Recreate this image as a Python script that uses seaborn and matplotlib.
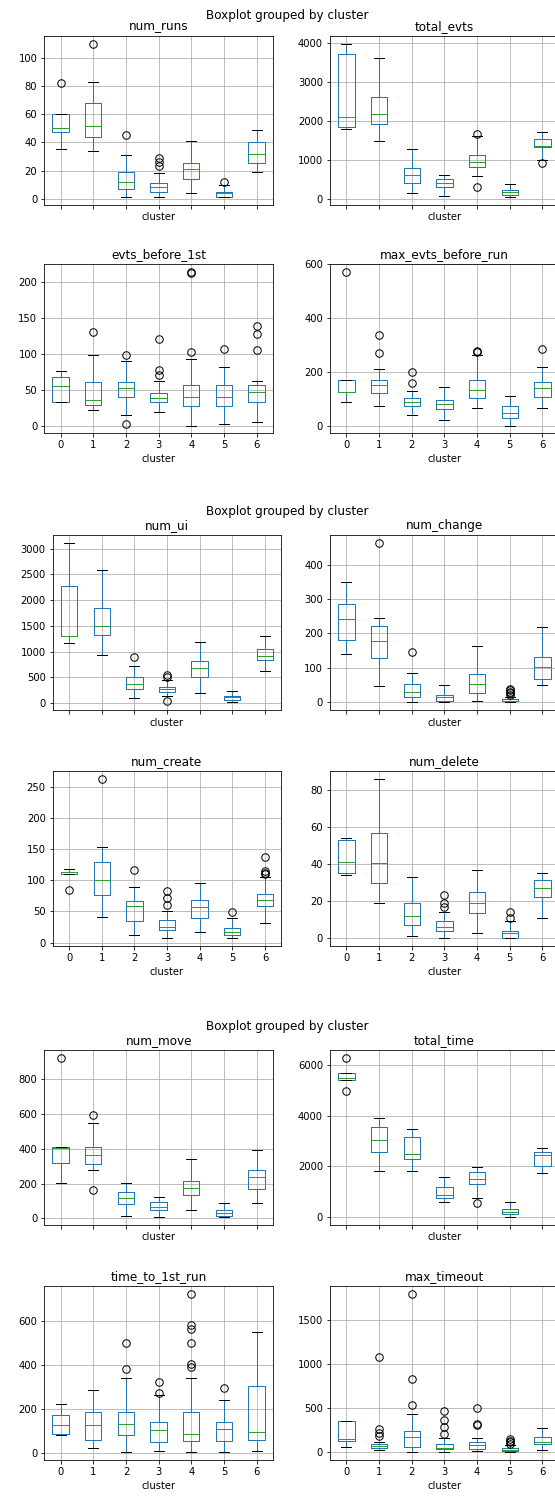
import matplotlib
matplotlib.use("Agg")
import matplotlib.pyplot as plt
import numpy as np
import pandas as pd
import seaborn as sns

CLUSTERS = [0, 1, 2, 3, 4, 5, 6]

# Five-number summaries (whisker low, Q1, median, Q3, whisker high)
# plus the outlier points, per cluster; and the y tick labels of each panel.
num_runs = dict(
    lo=[35, 34, 1, 1, 4, 1, 19], q1=[47, 44, 7, 5, 14, 1, 25.6],
    med=[50, 51.4, 11.6, 8, 21, 4, 32], q3=[60, 68, 19, 11, 25.5, 5, 40],
    hi=[60, 83, 31, 18, 41, 10, 49],
    low_out={}, high_out={0: [82], 1: [110], 2: [45], 3: [23, 26, 29], 5: [12]},
    ticks=[0, 20, 40, 60, 80, 100])

total_evts = dict(
    lo=[1783, 1484, 136, 77, 571, 34, 1000], q1=[1825, 1910, 409, 298, 802, 94, 1313],
    med=[2090, 2166, 597, 392, 938, 162, 1356], q3=[3718, 2618, 793, 503, 1126, 222, 1527],
    hi=[3974, 3608, 1279, 605, 1595, 384, 1706],
    low_out={4: [290], 6: [913]}, high_out={4: [1655]},
    ticks=[0, 1000, 2000, 3000, 4000])

evts_before_1st = dict(
    lo=[33, 22, 14.4, 18.6, 0, 2.3, 5], q1=[33, 29, 40, 33, 28, 28, 33],
    med=[55, 36, 52.6, 38, 40.5, 40, 47.4], q3=[67.4, 61, 61, 45, 56, 56, 56.3],
    hi=[76, 98.6, 90, 62, 93.5, 81, 62],
    low_out={2: [2]},
    high_out={1: [131], 2: [98.6], 3: [70, 78, 121], 4: [102, 213, 214.5],
              5: [107], 6: [105, 128, 139.5]},
    ticks=[0, 50, 100, 150, 200])

max_evts_before_run = dict(
    lo=[88, 72, 40, 20, 65, 0, 66], q1=[125, 123, 74.5, 60, 104, 27, 105.6],
    med=[126, 151.6, 89.4, 79.5, 132, 47, 140], q3=[169, 168, 103, 94.4, 168, 74.5, 164],
    hi=[169, 211, 127, 144, 261, 112, 220],
    low_out={}, high_out={0: [573], 1: [270, 338], 2: [158, 201], 4: [274, 277], 6: [284.5]},
    ticks=[0, 200, 400, 600])

num_ui = dict(
    lo=[1174, 942, 97, 140, 200, 19, 619], q1=[1300, 1323, 271, 210, 497, 58, 832],
    med=[1310, 1490, 374, 265, 677, 110, 916], q3=[2277, 1845, 497, 320, 813, 142, 1058],
    hi=[3103, 2580, 723, 445, 1194, 239, 1297],
    low_out={3: [30]}, high_out={2: [903], 3: [515, 540]},
    ticks=[0, 500, 1000, 1500, 2000, 2500, 3000])

num_change = dict(
    lo=[140, 47.5, 1, 0, 3, 0, 49], q1=[182, 129, 14.5, 4, 27, 2, 68],
    med=[243, 178, 29, 14.5, 52, 4, 102], q3=[286, 223, 53, 22, 82, 8, 132],
    hi=[349, 244, 85, 48.4, 164, 15, 220],
    low_out={}, high_out={1: [463], 2: [145], 5: [22, 26, 30, 34, 38]},
    ticks=[0, 100, 200, 300, 400])

num_create = dict(
    lo=[110, 41, 13, 7.4, 17, 7.4, 31], q1=[110, 76, 35, 20.7, 40, 12, 58.5],
    med=[112.8, 101, 58.5, 25.5, 57.4, 17.5, 68.6], q3=[114, 128.7, 66.5, 36, 68, 23.4, 78.7],
    hi=[118, 154, 90, 51, 96, 39, 105],
    low_out={0: [84.6]},
    high_out={1: [262], 2: [116], 3: [60.6, 72, 83], 5: [49], 6: [110, 112, 115.4, 136.7]},
    ticks=[0, 50, 100, 150, 200, 250])

num_delete = dict(
    lo=[34, 19, 1, 0, 3, 0, 11], q1=[35, 29.7, 7, 4, 13.5, 0, 22],
    med=[41, 40.6, 11.9, 6, 19, 3, 27], q3=[53, 56.8, 18.9, 9, 24.8, 4, 31.5],
    hi=[54, 86, 33, 14, 37, 9, 35],
    low_out={}, high_out={3: [17, 19, 23.4], 5: [11, 14]},
    ticks=[0, 20, 40, 60, 80])

num_move = dict(
    lo=[203, 276, 15, 7.7, 46, 7.7, 90], q1=[316.5, 314.6, 82.5, 48, 132, 15, 167],
    med=[403, 364.5, 115, 67, 172.7, 32.6, 238], q3=[408.6, 412.5, 150, 94, 217, 46, 280],
    hi=[408.6, 547, 203, 125, 338, 86, 391],
    low_out={1: [161]}, high_out={0: [919], 1: [595]},
    ticks=[0, 200, 400, 600, 800])

total_time = dict(
    lo=[5431, 1810, 1824, 608, 740, 0, 1758], q1=[5431, 2577, 2300, 753, 1321, 110, 2022],
    med=[5484, 3053, 2511, 859, 1493, 211, 2445], q3=[5683, 3542, 3158, 1189, 1771, 300, 2577],
    hi=[5683, 3898, 3462, 1599, 1995, 581, 2722],
    low_out={0: [4995], 4: [555]}, high_out={0: [6277]},
    ticks=[0, 2000, 4000, 6000])

time_to_1st_run = dict(
    lo=[78.6, 21, 1.5, 7.6, 1.5, 4.5, 9], q1=[83, 60, 78.6, 51, 53, 53, 60],
    med=[124, 128, 130, 104, 86, 107, 95], q3=[172, 183, 184, 137.5, 186, 140.5, 304],
    hi=[222, 286, 341.5, 261, 340, 242, 548.6],
    low_out={},
    high_out={2: [379, 497], 3: [272, 323], 4: [390, 402, 500, 565, 579, 721], 5: [293]},
    ticks=[0, 200, 400, 600])

max_timeout = dict(
    lo=[60, 23, 0, 7.5, 19, 0, 23], q1=[124, 52, 60, 34, 41, 12, 90],
    med=[147, 78, 177, 49, 79, 28, 120.6], q3=[350.5, 100, 237.5, 98, 117, 45, 170],
    hi=[358, 120, 433.5, 158, 166, 80, 275],
    low_out={},
    high_out={1: [190, 225, 262, 1087], 2: [543, 837, 1794], 3: [207, 283, 369, 467],
              4: [309, 317, 501], 5: [100, 118, 132, 148]},
    ticks=[0, 500, 1000, 1500])


def summary_frame(s):
    """Sample per cluster whose quartiles/whiskers equal the read summary."""
    rows = []
    for i, c in enumerate(CLUSTERS):
        lo_o = s["low_out"].get(c, [])
        hi_o = s["high_out"].get(c, [])
        m = max(len(lo_o), len(hi_o)) + 1
        vals = (list(lo_o) + [s["lo"][i]] * (m - len(lo_o)) + [s["q1"][i]] * m
                + [s["med"][i]] * m + [s["q3"][i]] + [s["hi"][i]] * (m - len(hi_o))
                + list(hi_o))
        rows += [(c, v) for v in vals]
    return pd.DataFrame(rows, columns=["cluster", "value"])


W, H = 555, 1499
fig = plt.figure(figsize=(W / 72, H / 72), dpi=72)


def add_ax(x0, x1, y0, y1):
    return fig.add_axes([x0 / W, 1 - y1 / H, (x1 - x0) / W, (y1 - y0) / H])


def draw(ax, name, s, top):
    df = summary_frame(s)
    sns.boxplot(data=df, x="cluster", y="value", ax=ax, order=CLUSTERS,
                color="#1f77b4", saturation=1, fill=False, width=0.5, linewidth=1.0,
                capwidths=0.3,
                boxprops=dict(color="#1f77b4"),
                whiskerprops=dict(color="#1f77b4"),
                medianprops=dict(color="#2ca02c"),
                capprops=dict(color="black"),
                flierprops=dict(marker="o", markerfacecolor="none",
                                markeredgecolor="black", markersize=7.5))
    ylim = ax.get_ylim()
    ax.set_yticks(s["ticks"])
    ax.set_ylim(ylim)
    ax.grid(True)
    ax.set_title(name, fontsize=12)
    ax.set_xlabel("cluster", fontsize=10)
    ax.set_ylabel("")
    if top:
        ax.tick_params(axis="x", labelbottom=False)


LEFT1 = (44.3, 273.0)
LEFT2 = (52.7, 281.3)
RIGHT = (330.0, 558.7)

figures = [
    (15.0, [(36.0, 205.0), (264.0, 433.3)], LEFT1,
     [("num_runs", num_runs), ("total_evts", total_evts),
      ("evts_before_1st", evts_before_1st), ("max_evts_before_run", max_evts_before_run)]),
    (511.7, [(535.3, 710.0), (771.3, 946.0)], LEFT2,
     [("num_ui", num_ui), ("num_change", num_change),
      ("num_create", num_create), ("num_delete", num_delete)]),
    (1026.7, [(1050.3, 1225.0), (1286.3, 1460.3)], LEFT1,
     [("num_move", num_move), ("total_time", total_time),
      ("time_to_1st_run", time_to_1st_run), ("max_timeout", max_timeout)]),
]

for sup_y, rows, left, panels in figures:
    k = 0
    for r, (y0, y1) in enumerate(rows):
        for xs in (left, RIGHT):
            name, s = panels[k]
            ax = add_ax(xs[0], xs[1], y0, y1)
            draw(ax, name, s, top=(r == 0))
            k += 1
    fig.text(287 / W, 1 - sup_y / H, "Boxplot grouped by cluster",
             ha="center", va="center", fontsize=12)

fig.savefig("out.png", dpi=72)
